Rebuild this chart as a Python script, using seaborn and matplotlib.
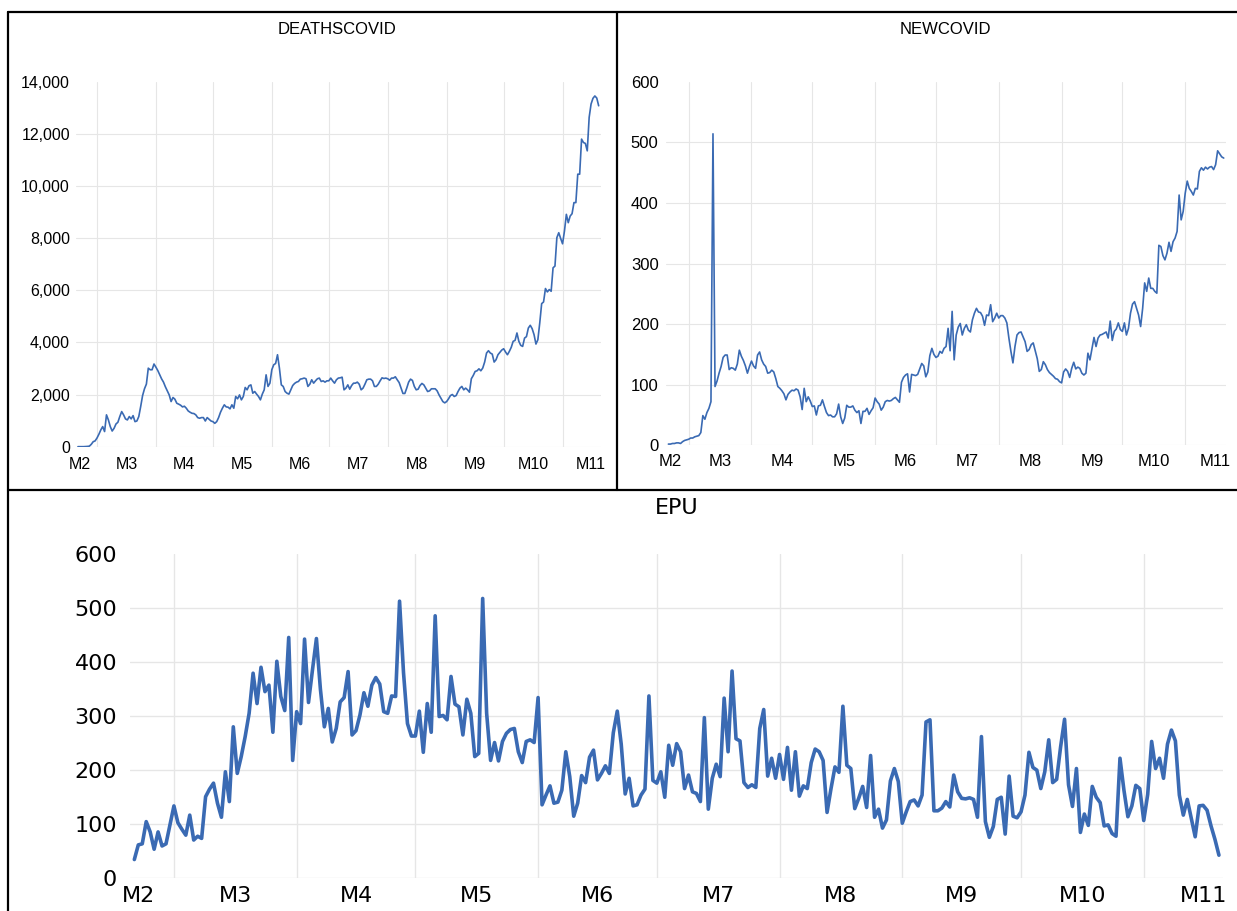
import matplotlib
matplotlib.use("Agg")
import matplotlib.pyplot as plt
import matplotlib.dates as mdates
from matplotlib.lines import Line2D
from matplotlib.ticker import FixedLocator, FixedFormatter, MultipleLocator, NullFormatter, StrMethodFormatter
import pandas as pd
import seaborn as sns

# daily series, 20 Feb 2020 onwards
START = "2020-02-20"
MONTH_LABELS = ["M2", "M3", "M4", "M5", "M6", "M7", "M8", "M9", "M10", "M11"]

deaths = [
    0, 0, 0, 0, 5, 10, 20, 90, 190, 220, 330, 475, 640, 770, 580,
    1220, 1025, 770, 600, 705, 870, 935, 1155, 1345, 1220, 1065, 1025, 1155, 1065, 1190,
    960, 985, 1155, 1540, 1960, 2220, 2400, 3010, 2950, 2950, 3170, 3050, 2920, 2760, 2600,
    2475, 2295, 2140, 1985, 1730, 1885, 1820, 1665, 1630, 1590, 1525, 1550, 1475, 1370, 1320,
    1280, 1270, 1220, 1115, 1090, 1115, 1115, 985, 1115, 1050, 985, 960, 895, 960, 1115,
    1320, 1475, 1605, 1525, 1515, 1450, 1605, 1475, 1925, 1835, 1985, 1795, 1925, 2270, 2180,
    2335, 2370, 2050, 2115, 2015, 1925, 1795, 2015, 2180, 2755, 2310, 2435, 2950, 3140, 3190,
    3525, 3015, 2370, 2310, 2115, 2050, 2015, 2180, 2345, 2425, 2475, 2500, 2590, 2605, 2630,
    2605, 2310, 2395, 2565, 2435, 2525, 2605, 2630, 2500, 2525, 2475, 2525, 2525, 2630, 2525,
    2435, 2565, 2630, 2640, 2665, 2180, 2245, 2370, 2205, 2345, 2435, 2435, 2475, 2395, 2180,
    2245, 2395, 2565, 2590, 2590, 2525, 2310, 2310, 2395, 2525, 2640, 2615, 2630, 2605, 2550,
    2630, 2630, 2680, 2565, 2460, 2245, 2040, 2040, 2245, 2475, 2590, 2540, 2310, 2180, 2205,
    2345, 2425, 2370, 2245, 2115, 2140, 2220, 2220, 2220, 2140, 1985, 1860, 1730, 1680, 1730,
    1835, 1960, 2000, 1925, 1960, 2115, 2245, 2310, 2180, 2245, 2180, 2090, 2605, 2730, 2885,
    2910, 2985, 2910, 3015, 3245, 3590, 3680, 3590, 3550, 3245, 3335, 3525, 3615, 3705, 3755,
    3630, 3525, 3655, 3810, 4040, 4075, 4360, 4040, 3885, 3845, 4165, 4220, 4550, 4655, 4525,
    4295, 3935, 4100, 4745, 5485, 5550, 6065, 5935, 6025, 5960, 6860, 6925, 8015, 8205, 7985,
    7780, 8270, 8910, 8590, 8845, 8935, 9360, 9360, 10450, 10450, 11795, 11665, 11630, 11345, 12630,
    13140, 13360, 13450, 13370, 13075,
]

newcovid = [
    2, 2, 3, 3, 4, 4, 3, 6, 8, 9, 10, 12, 12, 14, 15,
    16, 21, 49, 43, 54, 61, 72, 514, 97, 106, 119, 130, 145, 149, 149,
    125, 128, 127, 124, 134, 157, 147, 140, 131, 119, 130, 139, 131, 127, 149,
    154, 141, 134, 130, 119, 120, 124, 121, 110, 97, 94, 90, 85, 75, 84,
    88, 91, 90, 93, 91, 80, 59, 94, 72, 80, 73, 64, 65, 50, 65,
    66, 75, 64, 54, 49, 50, 47, 47, 52, 68, 47, 36, 45, 66, 63,
    63, 65, 58, 54, 57, 36, 56, 56, 61, 51, 57, 62, 78, 72, 68,
    58, 63, 72, 74, 73, 74, 77, 79, 75, 71, 104, 112, 116, 118, 88,
    117, 116, 115, 117, 126, 135, 131, 113, 121, 148, 160, 150, 145, 147, 155,
    152, 160, 163, 193, 156, 221, 141, 182, 195, 201, 182, 193, 199, 190, 187,
    207, 218, 226, 220, 219, 213, 198, 215, 214, 232, 204, 210, 218, 210, 214,
    214, 210, 202, 177, 155, 136, 163, 182, 186, 187, 179, 171, 155, 158, 166,
    169, 156, 143, 122, 125, 138, 133, 125, 120, 117, 114, 110, 109, 105, 103,
    121, 126, 122, 112, 127, 137, 126, 129, 127, 119, 116, 119, 152, 141, 160,
    178, 163, 177, 182, 183, 185, 187, 177, 205, 173, 188, 192, 202, 191, 188,
    202, 182, 193, 218, 233, 237, 226, 215, 196, 226, 268, 254, 276, 259, 259,
    254, 251, 330, 328, 313, 306, 317, 335, 320, 336, 342, 353, 413, 372, 386,
    416, 436, 424, 419, 413, 424, 423, 452, 458, 454, 459, 456, 459, 460, 455,
    463, 486, 481, 476, 474,
]

epu = [
    35, 62, 64, 105, 86, 54, 86, 60, 64, 99, 134, 103, 91, 80, 117,
    71, 78, 74, 151, 165, 176, 139, 113, 197, 142, 280, 194, 225, 262, 305,
    379, 323, 390, 345, 357, 270, 401, 336, 310, 445, 218, 308, 286, 442, 325,
    385, 443, 350, 280, 314, 252, 277, 326, 334, 382, 265, 273, 302, 343, 318,
    357, 371, 359, 308, 305, 337, 336, 512, 380, 286, 263, 263, 309, 233, 323,
    270, 485, 299, 301, 293, 373, 322, 317, 265, 331, 305, 225, 231, 517, 305,
    218, 251, 217, 253, 268, 275, 277, 234, 214, 253, 256, 251, 334, 136, 154,
    171, 139, 141, 163, 234, 188, 115, 139, 190, 177, 224, 237, 182, 194, 208,
    194, 269, 309, 248, 156, 185, 134, 136, 154, 165, 337, 181, 176, 197, 150,
    246, 209, 249, 234, 166, 191, 160, 157, 142, 297, 128, 185, 211, 188, 333,
    234, 383, 258, 254, 177, 168, 173, 168, 277, 312, 189, 222, 185, 229, 183,
    242, 163, 234, 152, 171, 166, 214, 239, 234, 218, 122, 166, 206, 196, 318,
    209, 203, 129, 148, 170, 131, 227, 113, 128, 93, 108, 180, 203, 179, 102,
    123, 142, 145, 134, 154, 289, 293, 125, 125, 130, 142, 132, 191, 160, 148,
    147, 149, 146, 113, 262, 105, 76, 96, 146, 150, 82, 189, 115, 112, 123,
    154, 233, 205, 200, 166, 197, 256, 177, 183, 243, 294, 173, 133, 203, 85,
    119, 98, 170, 150, 140, 97, 99, 83, 78, 222, 163, 114, 134, 172, 166,
    107, 155, 253, 203, 222, 185, 248, 274, 254, 154, 117, 146, 111, 77, 134,
    135, 126, 97, 72, 43,
]

LINE = "#3a6ab3"
GRID = "#e6e6e6"
TOP_FONT = ["Liberation Sans", "DejaVu Sans"]
BOT_FONT = ["DejaVu Sans"]

dates = pd.date_range(START, periods=len(epu), freq="D")
df = pd.DataFrame({"date": dates, "DEATHSCOVID": deaths, "NEWCOVID": newcovid, "EPU": epu})


def label_positions():
    """M2 just after the first day, other months at their middle."""
    pos = [dates[0] + pd.Timedelta(days=1)]
    for m in range(3, 12):
        first = pd.Timestamp(2020, m, 1)
        pos.append(first + pd.Timedelta(days=first.days_in_month / 2))
    return mdates.date2num([p.to_pydatetime() for p in pos])


def draw_panel(ax, col, ymax, ystep, yfmt, family, size, lw, grid_lw, xpad, ypad):
    sns.lineplot(data=df, x="date", y=col, ax=ax, color=LINE, linewidth=lw)
    ax.set_xlim(dates[0] - pd.Timedelta(days=1), dates[-1] + pd.Timedelta(days=1))
    ax.set_ylim(0, ymax)
    ax.set_xlabel("")
    ax.set_ylabel("")
    for s in ax.spines.values():
        s.set_visible(False)

    ax.xaxis.set_major_locator(mdates.MonthLocator())
    ax.xaxis.set_major_formatter(NullFormatter())
    ax.xaxis.set_minor_locator(FixedLocator(label_positions()))
    ax.xaxis.set_minor_formatter(FixedFormatter(MONTH_LABELS))
    ax.yaxis.set_major_locator(MultipleLocator(ystep))
    ax.yaxis.set_major_formatter(yfmt)

    ax.tick_params(axis="both", which="both", length=0, colors="black")
    ax.tick_params(axis="x", which="minor", pad=xpad, labelsize=size, labelfontfamily=family)
    ax.tick_params(axis="y", which="major", pad=ypad, labelsize=size, labelfontfamily=family)
    ax.grid(True, which="major", axis="both", color=GRID, linewidth=grid_lw)
    ax.set_axisbelow(True)


sns.set_style("white")
fig = plt.figure(figsize=(12.37, 9.11), dpi=100)

ax1 = fig.add_axes([0.0615, 0.5097, 0.4240, 0.4007])
ax2 = fig.add_axes([0.5387, 0.5112, 0.4522, 0.3991])
ax3 = fig.add_axes([0.1054, 0.0357, 0.8832, 0.3567])

draw_panel(ax1, "DEATHSCOVID", 14000, 2000, StrMethodFormatter("{x:,.0f}"),
           TOP_FONT, 11.5, 1.2, 0.8, 7.5, 4.4)
draw_panel(ax2, "NEWCOVID", 600, 100, StrMethodFormatter("{x:.0f}"),
           TOP_FONT, 12, 1.2, 0.8, 6.5, 5.6)
draw_panel(ax3, "EPU", 600, 100, StrMethodFormatter("{x:.0f}"),
           BOT_FONT, 16, 2.6, 1.0, 5.5, 9.5)

# no horizontal gridline at the top value
fig.canvas.draw()
for ax, top in [(ax1, 14000), (ax2, 600), (ax3, 600)]:
    for t in ax.yaxis.get_major_ticks():
        if abs(t.get_loc() - top) < 1e-6:
            t.gridline.set_visible(False)

fig.text(337.5 / 1237, 1 - 30 / 911, "DEATHSCOVID", ha="center", va="center",
         fontsize=12, family=TOP_FONT, color="black")
fig.text(945.8 / 1237, 1 - 30 / 911, "NEWCOVID", ha="center", va="center",
         fontsize=12, family=TOP_FONT, color="black")
fig.text(676.5 / 1237, 1 - 507.5 / 911, "EPU", ha="center", va="center",
         fontsize=16, family=BOT_FONT, color="black")

# panel borders
def border(x0, y0, x1, y1):
    fig.add_artist(Line2D([x0 / 1237, x1 / 1237], [1 - y0 / 911, 1 - y1 / 911],
                          transform=fig.transFigure, color="black", linewidth=1.6))

border(8, 12, 1237, 12)
border(8, 12, 8, 911)
border(617, 12, 617, 490)
border(8, 490, 1237, 490)

fig.savefig("out.png", dpi=100)
